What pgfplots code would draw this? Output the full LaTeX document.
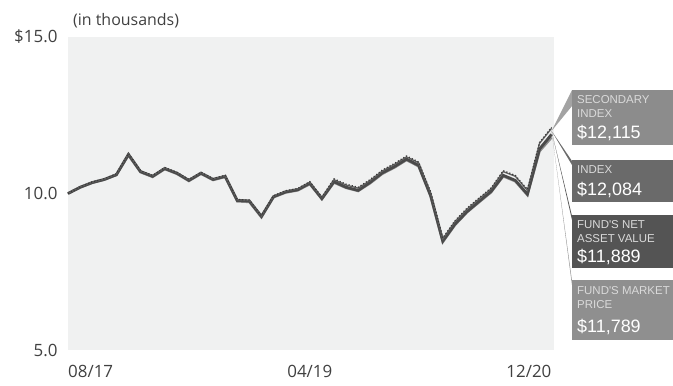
\documentclass[border=0pt]{standalone}
\usepackage{pgfplots}
\pgfplotsset{compat=1.18}
\usepackage{pgfplotstable}
\usepackage{fontspec}
\setmainfont{Open Sans}
\newfontfamily\boxfont{Liberation Sans}
\definecolor{bgc}{HTML}{F0F1F1}
\definecolor{txt}{HTML}{404040}
\definecolor{navc}{HTML}{4A4A4A}
\definecolor{idxc}{HTML}{606060}
\definecolor{secc}{HTML}{3A3A3A}
\definecolor{mktc}{HTML}{8A8A8A}
\definecolor{boxA}{HTML}{8C8C8C}
\definecolor{boxB}{HTML}{6A6A6A}
\definecolor{boxC}{HTML}{545454}
\definecolor{boxD}{HTML}{8F8F8F}
\definecolor{lab}{HTML}{DADADA}

\pgfplotstableread{
m nav idx sec mkt
0 10.00 10.00 10.00 10.00
1 10.20 10.21 10.21 10.19
2 10.35 10.36 10.37 10.34
3 10.45 10.46 10.47 10.44
4 10.60 10.62 10.63 10.59
5 11.25 11.27 11.28 11.22
6 10.70 10.72 10.73 10.68
7 10.55 10.57 10.58 10.53
8 10.80 10.82 10.83 10.78
9 10.65 10.67 10.68 10.63
10 10.42 10.44 10.45 10.40
11 10.65 10.67 10.68 10.63
12 10.45 10.47 10.48 10.43
13 10.55 10.57 10.58 10.53
14 9.78 9.80 9.81 9.75
15 9.76 9.78 9.79 9.73
16 9.27 9.28 9.29 9.24
17 9.90 9.92 9.93 9.88
18 10.05 10.08 10.09 10.03
19 10.12 10.15 10.16 10.10
20 10.33 10.36 10.38 10.30
21 9.84 9.87 9.89 9.82
22 10.38 10.44 10.47 10.35
23 10.20 10.27 10.30 10.18
24 10.10 10.17 10.20 10.08
25 10.36 10.42 10.45 10.33
26 10.66 10.72 10.75 10.63
27 10.86 10.93 10.96 10.83
28 11.10 11.17 11.20 11.07
29 10.90 10.98 11.01 10.87
30 9.93 10.02 10.05 9.90
31 8.48 8.55 8.58 8.45
32 9.02 9.10 9.13 8.99
33 9.42 9.50 9.53 9.40
34 9.75 9.83 9.86 9.72
35 10.07 10.15 10.18 10.04
36 10.58 10.70 10.73 10.55
37 10.42 10.55 10.58 10.39
38 9.98 10.10 10.13 9.95
39 11.42 11.60 11.63 11.35
40 11.889 12.084 12.115 11.789
}\data

\begin{document}
\begin{tikzpicture}[x=1bp,y=1bp]
\path[use as bounding box] (0,0) rectangle (673,-385);
\clip (0,0) rectangle (673,-385);
\begin{axis}[
  at={(68bp,-350bp)}, anchor=south west,
  scale only axis, width=486bp, height=313bp,
  xmin=0, xmax=40.2, ymin=5, ymax=15,
  axis background/.style={fill=bgc},
  axis line style={draw=none},
  major tick length=0pt,
  xtick=\empty,
  ytick={5,10,15},
  yticklabels={5.0,10.0,\$15.0},
  yticklabel style={font=\fontsize{17}{19}\selectfont, text=txt, anchor=east, xshift=-7bp},
  /pgf/number format/assume math mode=true,
  clip=false,
]
\addplot[mktc, line width=2.4bp] table[x=m,y=mkt]{\data};
\addplot[navc, line width=2.8bp] table[x=m,y=nav]{\data};
\addplot[idxc, line width=1.3bp] table[x=m,y=idx]{\data};
\addplot[secc, line width=1.2bp, dotted] table[x=m,y=sec]{\data};
\coordinate (E) at (axis cs:40,12.0);
\node[anchor=north west, inner sep=0pt, font=\fontsize{17}{19}\selectfont, text=txt] at (axis cs:0,5) [yshift=-15bp] {08/17};
\node[anchor=north, inner sep=0pt, font=\fontsize{17}{19}\selectfont, text=txt] at (axis cs:20,5) [yshift=-15bp] {04/19};
\node[anchor=north east, inner sep=0pt, font=\fontsize{17}{19}\selectfont, text=txt] at (axis cs:40,5) [yshift=-15bp] {12/20};
\node[anchor=south west, inner sep=0pt, font=\fontsize{16}{18}\selectfont, text=txt] at (axis cs:0,15) [xshift=5bp, yshift=9bp] {(in thousands)};
\end{axis}
% connectors
\fill[boxA!80!white] (E) -- (572,-90) -- (572,-106) -- cycle;
\fill[boxB] (E) -- (572,-161) -- (572,-165) -- cycle;
\fill[boxC] (E) -- (572,-216) -- (572,-220) -- cycle;
\fill[boxD] (E) -- (572,-281) -- (572,-285) -- cycle;
% boxes
\fill[boxA] (572,-90) rectangle (700,-145);
\fill[boxB] (572,-160) rectangle (700,-202);
\fill[boxC] (572,-215) rectangle (700,-268);
\fill[boxD] (572,-280) rectangle (700,-340);
\begin{scope}[every node/.style={anchor=base west, inner sep=0pt}]
\node[font=\boxfont\fontsize{11.5}{12}\selectfont, text=lab] at (577,-103) {SECONDARY};
\node[font=\boxfont\fontsize{11.5}{12}\selectfont, text=lab] at (577,-117) {INDEX};
\node[font=\boxfont\fontsize{18}{20}\selectfont, text=white] at (577,-138) {\$12,115};
\node[font=\boxfont\fontsize{11.5}{12}\selectfont, text=lab] at (577,-173) {INDEX};
\node[font=\boxfont\fontsize{18}{20}\selectfont, text=white] at (577,-195) {\$12,084};
\node[font=\boxfont\fontsize{11.5}{12}\selectfont, text=lab] at (577,-228) {FUND'S NET};
\node[font=\boxfont\fontsize{11.5}{12}\selectfont, text=lab] at (577,-242) {ASSET VALUE};
\node[font=\boxfont\fontsize{18}{20}\selectfont, text=white] at (577,-262) {\$11,889};
\node[font=\boxfont\fontsize{11.5}{12}\selectfont, text=lab] at (577,-294) {FUND'S MARKET};
\node[font=\boxfont\fontsize{11.5}{12}\selectfont, text=lab] at (577,-308) {PRICE};
\node[font=\boxfont\fontsize{18}{20}\selectfont, text=white] at (577,-332) {\$11,789};
\end{scope}
\end{tikzpicture}
\end{document}
